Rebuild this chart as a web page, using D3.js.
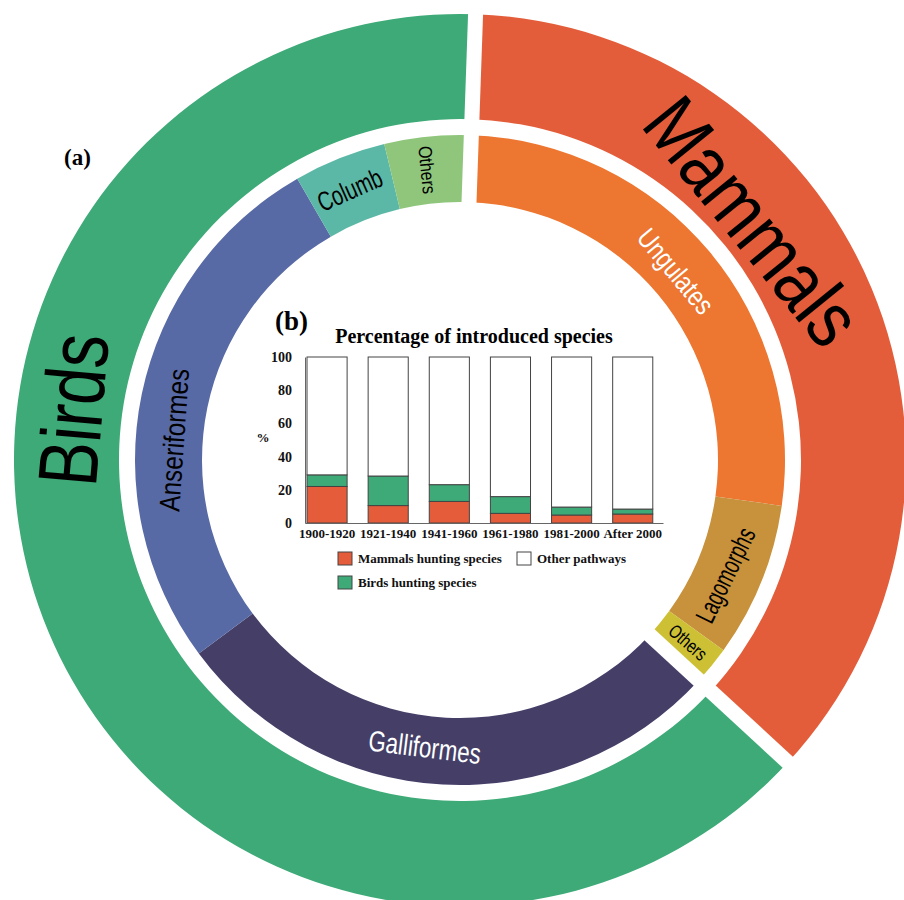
<!DOCTYPE html>
<html>
<head>
<meta charset="utf-8">
<script src="https://cdn.jsdelivr.net/npm/d3@7/dist/d3.min.js"></script>
<style>
body { margin: 0; background: #fff; }
svg { display: block; }
</style>
</head>
<body>
<div id="chart"></div>
<script>
// (a) rings: outer = class, inner = order (share of introduced hunting species, %)
var groups = ["Mammals", "Birds"];
var groupColors = ["#E45D3A", "#3DAA77"];
var orders = ["Ungulates", "Lagomorphs", "Others", "Galliformes", "Anseriformes", "Columb", "Others"];
var orderGroup = ["Mammals", "Mammals", "Mammals", "Birds", "Birds", "Birds", "Birds"];
var orderValues = [26.7, 7.7, 1.9, 28.0, 26.8, 4.6, 4.3];
var orderColors = ["#ED7630", "#C8913C", "#CDC034", "#453F68", "#586AA5", "#5CB8A6", "#8FC67C"];

// (b) stacked bars, percentage of introduced species
var periods = ["1900-1920", "1921-1940", "1941-1960", "1961-1980", "1981-2000", "After 2000"];
var mammalsPct = [22, 10.5, 13, 5.8, 4.8, 5.4];
var birdsPct = [7, 17.8, 10.1, 10.1, 4.8, 3];
var yTicks = [0, 20, 40, 60, 80, 100];
var legendNames = ["Mammals hunting species", "Other pathways", "Birds hunting species"];

var width = 904, height = 900;
var cx = 460, cy = 460;
var deg = Math.PI / 180;
var start = 2 * deg;

var svg = d3.select("#chart").append("svg")
	.attr("width", width)
	.attr("height", height);

var groupValues = groups.map(function(g) {
	return d3.sum(orderValues.filter(function(v, i) { return orderGroup[i] === g; }));
});

var pie = d3.pie().sort(null).startAngle(start).endAngle(start + 2 * Math.PI);
var outerArcs = pie(groupValues);
var innerArcs = pie(orderValues);

var outerArc = d3.arc().innerRadius(341).outerRadius(446);
var innerArc = d3.arc().innerRadius(258).outerRadius(325);

var rings = svg.append("g").attr("transform", "translate(" + cx + "," + cy + ")");

rings.selectAll("path.outer")
	.data(outerArcs)
	.enter().append("path")
	.attr("class", "outer")
	.attr("d", outerArc)
	.style("fill", function(d, i) { return groupColors[i]; });

rings.selectAll("path.inner")
	.data(innerArcs)
	.enter().append("path")
	.attr("class", "inner")
	.attr("d", innerArc)
	.style("fill", function(d, i) { return orderColors[i]; });

// white gaps between the two classes
rings.selectAll("line.gap")
	.data(outerArcs)
	.enter().append("line")
	.attr("class", "gap")
	.attr("x1", function(d) { return 240 * Math.sin(d.startAngle); })
	.attr("y1", function(d) { return -240 * Math.cos(d.startAngle); })
	.attr("x2", function(d) { return 470 * Math.sin(d.startAngle); })
	.attr("y2", function(d) { return -470 * Math.cos(d.startAngle); })
	.style("stroke", "#fff")
	.style("stroke-width", 15);

// label placement (angle in degrees from 12 o'clock, radius, rotation)
var groupLabelPos = [
	{a: 50.8, r: 379, rot: 51, size: 80, len: 292},
	{a: 277.4, r: 391, rot: -85, size: 84, len: 152}
];
var orderLabelPos = [
	{a: 48.8, r: 287, rot: 50, size: 28, len: 102, fill: "#fff"},
	{a: 113.4, r: 289, rot: -64, size: 27, len: 102, fill: "#000"},
	{a: 128.6, r: 292, rot: 41, size: 19, len: 44, fill: "#000"},
	{a: 187, r: 289, rot: 7, size: 29, len: 113, fill: "#fff"},
	{a: 274, r: 287, rot: -86, size: 29, len: 143, fill: "#000"},
	{a: 337.8, r: 292, rot: -24, size: 27, len: 68, fill: "#000"},
	{a: 353.6, r: 292, rot: 84, size: 19, len: 48, fill: "#000"}
];

function ringLabel(text, p, fill) {
	var x = p.r * Math.sin(p.a * deg);
	var y = -p.r * Math.cos(p.a * deg);
	rings.append("text")
		.attr("transform", "translate(" + x + "," + y + ") rotate(" + p.rot + ")")
		.attr("text-anchor", "middle")
		.attr("dy", "0.36em")
		.attr("textLength", p.len)
		.attr("lengthAdjust", "spacingAndGlyphs")
		.style("font-family", "'Liberation Sans', Arial, sans-serif")
		.style("font-size", p.size + "px")
		.style("fill", fill)
		.text(text);
}

groups.forEach(function(g, i) { ringLabel(g, groupLabelPos[i], "#000"); });
orders.forEach(function(o, i) { ringLabel(o, orderLabelPos[i], orderLabelPos[i].fill); });

var serif = "'Liberation Serif', 'Times New Roman', serif";

svg.append("text")
	.attr("x", 64).attr("y", 165)
	.style("font-family", serif).style("font-weight", "bold").style("font-size", "23px")
	.text("(a)");

// (b) bar chart
svg.append("text")
	.attr("x", 275).attr("y", 330)
	.style("font-family", serif).style("font-weight", "bold").style("font-size", "27px")
	.text("(b)");

svg.append("text")
	.attr("x", 474).attr("y", 343)
	.attr("text-anchor", "middle")
	.style("font-family", serif).style("font-weight", "bold").style("font-size", "20px")
	.text("Percentage of introduced species");

var table = periods.map(function(p, i) {
	return {period: p, mammals: mammalsPct[i], birds: birdsPct[i], other: 100 - mammalsPct[i] - birdsPct[i]};
});
var stack = d3.stack().keys(["mammals", "birds", "other"])(table);
var barColors = {mammals: "#E55C3A", birds: "#3DAA78", other: "#fff"};

var x = d3.scaleBand()
	.domain(periods)
	.range([305, 663])
	.paddingInner(0.344)
	.paddingOuter(0.1)
	.align(0.164);

var y = d3.scaleLinear()
	.domain([0, 100])
	.range([523, 357]);

var bars = svg.append("g");
bars.selectAll("g.layer")
	.data(stack)
	.enter().append("g")
	.attr("class", "layer")
	.style("fill", function(d) { return barColors[d.key]; })
	.selectAll("rect")
	.data(function(d) { return d; })
	.enter().append("rect")
	.attr("x", function(d) { return x(d.data.period); })
	.attr("y", function(d) { return y(d[1]); })
	.attr("width", x.bandwidth())
	.attr("height", function(d) { return y(d[0]) - y(d[1]); })
	.style("stroke", "#444")
	.style("stroke-width", 1);

var yAxis = svg.append("g")
	.attr("transform", "translate(305,0)")
	.call(d3.axisLeft(y).tickValues(yTicks).tickSize(0).tickPadding(13));

var xAxis = svg.append("g")
	.attr("transform", "translate(0,523)")
	.call(d3.axisBottom(x).tickSize(0).tickPadding(6));

svg.selectAll(".domain").style("stroke", "#666");
svg.selectAll(".tick text")
	.style("font-family", serif)
	.style("font-weight", "bold")
	.style("fill", "#111");
xAxis.selectAll(".tick text").style("font-size", "13px");
yAxis.selectAll(".tick text").style("font-size", "14px");

svg.append("text")
	.attr("x", 263).attr("y", 442)
	.attr("text-anchor", "middle")
	.style("font-family", serif).style("font-weight", "bold").style("font-size", "13px")
	.style("fill", "#111")
	.text("%");

// legend
var legendPos = [{x: 338, y: 552}, {x: 517, y: 552}, {x: 338, y: 576}];
var legendFill = ["#E55C3A", "#fff", "#3DAA78"];
var legend = svg.selectAll("g.legend")
	.data(legendNames)
	.enter().append("g")
	.attr("class", "legend")
	.attr("transform", function(d, i) { return "translate(" + legendPos[i].x + "," + legendPos[i].y + ")"; });

legend.append("rect")
	.attr("width", 14).attr("height", 13)
	.style("fill", function(d, i) { return legendFill[i]; })
	.style("stroke", "#444");

legend.append("text")
	.attr("x", 20).attr("y", 11)
	.style("font-family", serif).style("font-weight", "bold").style("font-size", "13px")
	.style("fill", "#111")
	.text(function(d) { return d; });
</script>
</body>
</html>
